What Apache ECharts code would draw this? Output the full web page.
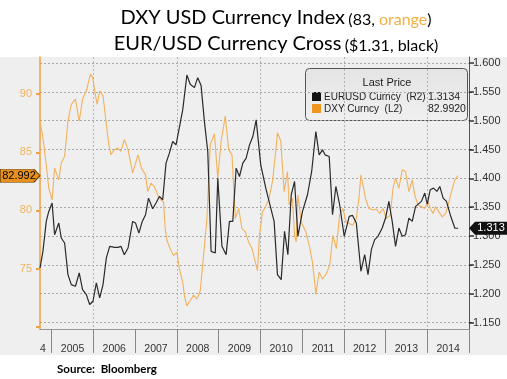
<!DOCTYPE html>
<html><head><meta charset="utf-8">
<script src="https://cdn.jsdelivr.net/npm/echarts@6/dist/echarts.min.js"></script>
<style>html,body{margin:0;padding:0;background:#fff}#c{width:507px;height:379px}</style>
</head><body><div id="c"></div>
<script>
// DXY USD Currency Index (left axis), x = decimal year
const dxyYears = [2004.72,2004.79,2004.87,2004.93,2005.01,2005.07,2005.17,2005.23,2005.31,2005.39,2005.47,2005.57,2005.66,2005.74,2005.83,2005.93,2005.98,2006.03,2006.09,2006.15,2006.23,2006.30,2006.37,2006.42,2006.50,2006.58,2006.66,2006.74,2006.83,2006.94,2007.07,2007.15,2007.25,2007.30,2007.38,2007.46,2007.54,2007.62,2007.68,2007.72,2007.76,2007.84,2007.92,2008.00,2008.06,2008.14,2008.18,2008.24,2008.32,2008.40,2008.48,2008.56,2008.64,2008.72,2008.80,2008.90,2008.98,2009.06,2009.16,2009.24,2009.32,2009.40,2009.48,2009.56,2009.64,2009.72,2009.80,2009.89,2009.93,2009.98,2010.05,2010.13,2010.21,2010.29,2010.37,2010.41,2010.49,2010.57,2010.65,2010.69,2010.77,2010.82,2010.86,2010.90,2010.98,2011.09,2011.17,2011.25,2011.33,2011.41,2011.49,2011.58,2011.66,2011.74,2011.82,2011.90,2011.98,2012.05,2012.13,2012.21,2012.30,2012.37,2012.41,2012.49,2012.52,2012.60,2012.70,2012.78,2012.86,2012.94,2013.02,2013.11,2013.18,2013.24,2013.32,2013.40,2013.48,2013.56,2013.64,2013.70,2013.78,2013.86,2013.94,2014.02,2014.07,2014.14,2014.20,2014.28,2014.36,2014.44,2014.50,2014.58,2014.66,2014.74];
const dxyValues = [87.69,86.24,83.93,81.91,80.90,83.64,82.63,84.08,84.65,87.69,89.13,89.57,87.69,89.57,90.29,91.73,91.45,90.29,89.13,90.29,89.86,87.69,85.66,84.80,85.23,85.38,85.09,86.10,85.23,83.21,84.80,83.64,83.06,81.62,82.34,82.05,81.33,80.90,80.75,78.44,77.43,76.71,76.13,76.42,74.97,73.82,72.66,71.79,72.23,72.72,72.37,73.09,76.13,79.31,85.66,86.59,82.77,85.95,88.12,85.23,84.80,79.31,80.17,78.44,78.15,77.28,76.71,75.40,74.83,77.86,79.88,80.32,81.04,82.49,85.09,86.68,85.95,81.62,83.35,80.46,81.04,77.86,77.28,81.33,79.02,78.15,76.99,75.55,72.80,74.68,74.10,74.54,75.26,77.86,76.71,79.60,80.17,79.02,78.87,78.73,79.31,81.33,83.06,81.62,81.04,80.17,80.03,80.12,79.74,80.17,79.31,79.60,81.91,82.77,81.91,83.50,83.35,81.62,82.63,81.33,80.46,80.32,80.17,80.75,80.17,79.74,80.32,79.88,79.45,79.74,80.46,81.62,82.63,82.992];
// EUR/USD (right axis)
const eurYears = [2004.72,2004.79,2004.87,2004.93,2005.01,2005.07,2005.17,2005.23,2005.31,2005.39,2005.47,2005.57,2005.66,2005.74,2005.83,2005.91,2005.99,2006.07,2006.15,2006.23,2006.31,2006.39,2006.51,2006.59,2006.66,2006.74,2006.83,2006.94,2007.01,2007.09,2007.17,2007.25,2007.32,2007.42,2007.50,2007.58,2007.66,2007.74,2007.82,2007.90,2007.98,2008.04,2008.14,2008.24,2008.32,2008.42,2008.50,2008.58,2008.66,2008.74,2008.82,2008.92,2008.98,2009.08,2009.18,2009.26,2009.34,2009.42,2009.50,2009.58,2009.66,2009.74,2009.82,2009.90,2010.01,2010.13,2010.25,2010.33,2010.41,2010.50,2010.58,2010.66,2010.74,2010.82,2010.90,2011.01,2011.13,2011.23,2011.33,2011.41,2011.49,2011.55,2011.65,2011.73,2011.81,2011.90,2012.01,2012.13,2012.21,2012.30,2012.41,2012.50,2012.58,2012.66,2012.74,2012.82,2012.92,2013.00,2013.08,2013.16,2013.24,2013.32,2013.40,2013.48,2013.56,2013.64,2013.72,2013.86,2013.94,2014.00,2014.07,2014.15,2014.23,2014.30,2014.38,2014.46,2014.55,2014.66,2014.74];
const eurValues = [1.2445,1.2734,1.3253,1.3426,1.3571,1.3022,1.3224,1.2965,1.2878,1.2330,1.2157,1.2128,1.2359,1.2070,1.1984,1.1811,1.1868,1.2186,1.1926,1.2157,1.2619,1.2821,1.2803,1.2803,1.2821,1.2676,1.2792,1.3253,1.3224,1.3051,1.3253,1.3369,1.3657,1.3473,1.3571,1.3686,1.3628,1.4263,1.4436,1.4638,1.4580,1.4811,1.5186,1.5792,1.5631,1.5573,1.5746,1.5608,1.4984,1.4465,1.2734,1.2705,1.4003,1.2821,1.2676,1.3253,1.3253,1.4177,1.4032,1.4263,1.4350,1.4580,1.4725,1.5013,1.4234,1.3830,1.3484,1.3253,1.2330,1.2243,1.3080,1.2676,1.3715,1.3946,1.2994,1.3426,1.3715,1.4119,1.4811,1.4407,1.4494,1.4407,1.4379,1.3369,1.3859,1.3542,1.2994,1.3340,1.3357,1.3224,1.2388,1.2676,1.2330,1.2763,1.2936,1.2994,1.3138,1.3311,1.3600,1.3253,1.2821,1.3138,1.2994,1.3022,1.3311,1.3253,1.3513,1.3600,1.3744,1.3553,1.3801,1.3830,1.3773,1.3859,1.3657,1.3600,1.3369,1.3138,1.3134];

const xStart = 2004.72, xEnd = 2015;
const yearBounds = [2005,2006,2007,2008,2009,2010,2011,2012,2013,2014,2015];
const yearLabelPos = [2004.79,2005.5,2006.5,2007.5,2008.5,2009.5,2010.5,2011.5,2012.5,2013.5,2014.5];
const vGridYears = [2006,2008,2010,2012,2014];
const leftTicks = [70,75,80,85,90];
const leftLabels = [75,80,85,90];
const rightTicks = [1.15,1.2,1.25,1.3,1.35,1.4,1.45,1.5,1.55,1.6];
const lastDxy = 82.992, lastEur = 1.3134;
const legendRows = [['EURUSD Curncy  (R2)','1.3134','#111111'],['DXY Curncy  (L2)','82.9920','#f0961e']];

const ORANGE = '#f2b25c';
const dxyData = dxyYears.map((x,i)=>[x,dxyValues[i]]);
const eurData = eurYears.map((x,i)=>[x,eurValues[i]]);

const chart = echarts.init(document.getElementById('c'));
const lf = 'Liberation Sans';
chart.setOption({
  animation:false,
  backgroundColor:'#ffffff',
  grid:{left:40,right:38,top:57,bottom:50,containLabel:false},
  xAxis:[{
    type:'value',min:xStart,max:xEnd,
    axisLine:{show:true,lineStyle:{color:'#999',width:1}},
    axisTick:{show:true,length:24,customValues:yearBounds,lineStyle:{color:'#888',width:1}},
    axisLabel:{customValues:yearLabelPos,margin:15,fontFamily:lf,fontSize:10.5,color:'#333',
      formatter:v=> v<2005 ? '4' : String(Math.floor(v))},
    splitLine:{show:false}
  },{
    type:'value',min:xStart,max:xEnd,position:'top',
    axisLine:{show:false},axisLabel:{show:false},
    axisTick:{show:false,customValues:vGridYears},
    splitLine:{show:true,lineStyle:{color:'#b4b4b4',type:[2,2],width:1}}
  }],
  yAxis:[{
    type:'value',position:'left',min:69.8,max:93.2,
    axisLine:{show:true,lineStyle:{color:'#f0a040',width:1.5}},
    axisTick:{show:true,customValues:leftTicks,length:4,lineStyle:{color:'#f0a040',width:2}},
    axisLabel:{customValues:leftLabels,margin:8,fontFamily:lf,fontSize:11,color:ORANGE},
    splitLine:{show:false}
  },{
    type:'value',position:'right',min:1.1387,max:1.6104,
    axisLine:{show:true,lineStyle:{color:'#555',width:1}},
    axisTick:{show:true,customValues:rightTicks,length:5,lineStyle:{color:'#333',width:1.5}},
    minorTick:{show:true,splitNumber:2,length:3,lineStyle:{color:'#333'}},
    axisLabel:{customValues:rightTicks,margin:4,fontFamily:lf,fontSize:11,color:'#333',formatter:v=>v.toFixed(3)},
    splitLine:{show:true,lineStyle:{color:'#a8a8a8',type:[2,2],width:1}}
  }],
  series:[{
    name:'DXY Curncy',type:'line',xAxisIndex:0,yAxisIndex:0,data:dxyData,symbol:'none',
    lineStyle:{color:ORANGE,width:1.1},z:3,
    markPoint:{silent:true,data:[{coord:[xStart,lastDxy],value:lastDxy}],
      symbol:'path://M0,0L34,0L40,6L34,12L0,12Z',symbolSize:[40,13],symbolOffset:[-20,0],symbolKeepAspect:false,
      itemStyle:{color:'#e8901e',borderColor:'#6b4000',borderWidth:0.8},
      label:{show:true,position:'inside',formatter:()=>lastDxy.toFixed(3),color:'#000',fontFamily:lf,fontSize:11,offset:[-1,0]}}
  },{
    name:'EURUSD Curncy',type:'line',xAxisIndex:0,yAxisIndex:1,data:eurData,symbol:'none',
    lineStyle:{color:'#2a2a2a',width:1.2},z:4,
    markPoint:{silent:true,data:[{coord:[xEnd,lastEur],value:lastEur}],
      symbol:'path://M6,0L40,0L40,12L6,12L0,6Z',symbolSize:[40,13],symbolOffset:[20,0],symbolKeepAspect:false,
      itemStyle:{color:'#111'},
      label:{show:true,position:'inside',formatter:()=>lastEur.toFixed(3),color:'#fff',fontFamily:lf,fontSize:11,offset:[2,0]}}
  }],
  graphic:[
    {type:'rect',z:-10,silent:true,shape:{x:0,y:57,width:507,height:298},style:{fill:'#efefef'}},
    {type:'text',z:10,x:276,y:16,style:{align:'center',verticalAlign:'middle',
      text:'{a|DXY USD Currency Index} {b|(83, }{o|orange}{b|)}',
      rich:{a:{fontFamily:'Lato',fontSize:20,fill:'#000',lineHeight:24,verticalAlign:'bottom'},
            b:{fontFamily:'Lato',fontSize:16,fill:'#000',lineHeight:20,verticalAlign:'bottom'},
            o:{fontFamily:'Lato',fontSize:16,fill:'#f5b041',lineHeight:20,verticalAlign:'bottom'}}}},
    {type:'text',z:10,x:276,y:42,style:{align:'center',verticalAlign:'middle',
      text:'{a|EUR/USD Currency Cross} {b|($1.31, black)}',
      rich:{a:{fontFamily:'Lato',fontSize:20,fill:'#000',lineHeight:24,verticalAlign:'bottom'},
            b:{fontFamily:'Lato',fontSize:16,fill:'#000',lineHeight:20,verticalAlign:'bottom'}}}},
    {type:'text',z:10,x:57,y:369,style:{text:'Source:  Bloomberg',fontFamily:'Lato',fontWeight:'bold',fontSize:11.5,fill:'#000',verticalAlign:'middle'}},
    {type:'group',z:50,children:[
      {type:'rect',shape:{x:305.5,y:68.5,width:162,height:52,r:4},
        style:{fill:{type:'linear',x:0,y:0,x2:0,y2:1,colorStops:[{offset:0,color:'#e4e4e4'},{offset:1,color:'#f0f0f0'}]},stroke:'#555',lineWidth:1}},
      {type:'text',x:387,y:83,style:{text:'Last Price',align:'center',verticalAlign:'middle',fontFamily:lf,fontSize:11,fill:'#222'}},
      {type:'rect',shape:{x:312,y:92,width:9,height:9},style:{fill:legendRows[0][2]}},
      {type:'text',x:324,y:97,style:{text:legendRows[0][0],verticalAlign:'middle',fontFamily:lf,fontSize:10,fill:'#222'}},
      {type:'text',x:428,y:97,style:{text:legendRows[0][1],verticalAlign:'middle',fontFamily:lf,fontSize:10.5,fill:'#222'}},
      {type:'rect',shape:{x:312,y:104,width:9,height:9},style:{fill:legendRows[1][2]}},
      {type:'text',x:324,y:109,style:{text:legendRows[1][0],verticalAlign:'middle',fontFamily:lf,fontSize:10,fill:'#222'}},
      {type:'text',x:428,y:109,style:{text:legendRows[1][1],verticalAlign:'middle',fontFamily:lf,fontSize:10.5,fill:'#222'}}
    ]}
  ]
});
</script></body></html>
